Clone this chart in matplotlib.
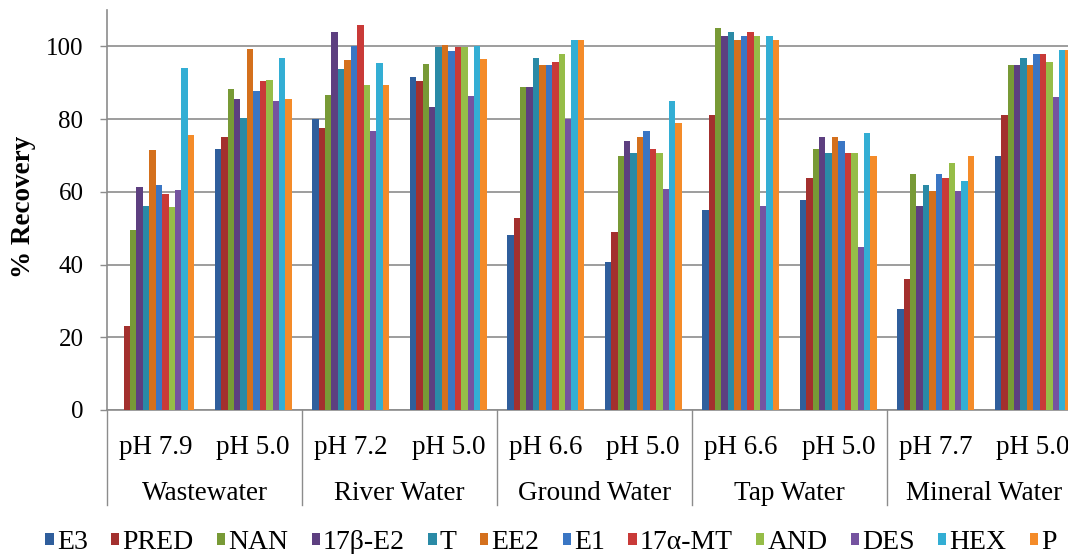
import numpy as np
import matplotlib
matplotlib.use("Agg")
import matplotlib.pyplot as plt
import matplotlib.transforms as mtransforms
from matplotlib.patches import Patch

plt.rcParams['font.family'] = ['Liberation Serif', 'DejaVu Serif']

matrices = ["Wastewater", "River Water", "Ground Water", "Tap Water", "Mineral Water"]
ph_labels = ["pH 7.9", "pH 5.0", "pH 7.2", "pH 5.0", "pH 6.6", "pH 5.0",
             "pH 6.6", "pH 5.0", "pH 7.7", "pH 5.0"]
compounds = ["E3", "PRED", "NAN", "17β-E2", "T", "EE2", "E1", "17α-MT",
             "AND", "DES", "HEX", "P"]

# recovery per compound, one value per pH condition (10 conditions)
E3    = [0.0, 71.8, 79.9, 91.6, 48.0, 40.8, 54.9, 57.8, 27.7, 69.8]
PRED  = [23.2, 75.1, 77.6, 90.6, 52.8, 49.0, 81.0, 63.7, 35.9, 81.0]
NAN   = [49.6, 88.4, 86.6, 95.1, 88.8, 69.8, 105.0, 71.9, 64.8, 94.8]
E2b   = [61.2, 85.5, 103.9, 83.2, 88.8, 74.0, 102.9, 75.1, 56.0, 94.8]
T     = [56.0, 80.3, 93.7, 99.7, 96.9, 70.8, 103.9, 70.8, 62.0, 96.9]
EE2   = [71.4, 99.4, 96.2, 100.5, 94.8, 75.1, 101.8, 75.1, 60.2, 94.8]
E1    = [62.0, 87.7, 100.0, 98.6, 94.8, 76.8, 102.9, 74.0, 64.8, 98.0]
MT    = [59.5, 90.6, 106.0, 99.7, 95.8, 71.9, 103.9, 70.8, 63.7, 98.0]
AND   = [55.7, 90.8, 89.4, 99.7, 98.0, 70.8, 102.9, 70.8, 68.0, 95.8]
DES   = [60.5, 84.9, 76.7, 86.3, 79.9, 60.9, 56.0, 44.7, 60.2, 86.0]
HEX   = [94.0, 96.9, 95.5, 100.0, 101.8, 84.9, 102.9, 76.1, 63.1, 98.9]
P     = [75.7, 85.5, 89.4, 96.5, 101.8, 78.9, 101.8, 69.8, 69.8, 98.9]

series = [E3, PRED, NAN, E2b, T, EE2, E1, MT, AND, DES, HEX, P]
colors = ["#2F5E9C", "#A3302E", "#789A36", "#5D3F80", "#2A8AA6", "#D4701D",
          "#3A76C4", "#C93A38", "#96BD48", "#7553A0", "#33AED4", "#F48B29"]

fig = plt.figure(figsize=(10.68, 5.54), dpi=100)
ax = fig.add_axes([107 / 1068, 144 / 554, 975 / 1068, 400 / 554])

n = len(ph_labels)
x = np.arange(n)
bw = 0.066
for i, (vals, c) in enumerate(zip(series, colors)):
    off = (i - (len(series) - 1) / 2) * bw
    ax.bar(x + off, vals, width=bw, color=c, edgecolor="none", zorder=3)

ax.set_xlim(-0.5, n - 0.5)
ax.set_ylim(0, 110)
ax.set_yticks(range(0, 101, 20))
ax.yaxis.grid(True, color="#8c8c8c", linewidth=1.2, zorder=0)
ax.tick_params(axis="y", labelsize=18, length=5, color="#8c8c8c", width=1, pad=12)
ax.set_xticks(x)
ax.set_xticklabels(ph_labels, fontsize=19.5)
ax.tick_params(axis="x", length=0, pad=18)
for s in ["top", "right"]:
    ax.spines[s].set_visible(False)
ax.spines["left"].set_color("#8c8c8c")
ax.spines["bottom"].set_color("#8c8c8c")
ax.spines["left"].set_linewidth(1.2)
ax.spines["bottom"].set_linewidth(1.2)
ax.set_ylabel("% Recovery", fontsize=19.5, fontweight="bold")
ax.yaxis.set_label_coords(-71 / 975, 0.5075)

# second level of category axis
trans = mtransforms.blended_transform_factory(ax.transData, ax.transAxes)
for g, name in enumerate(matrices):
    ax.text(2 * g + 0.5, -0.2075, name, transform=trans, ha="center", va="center",
            fontsize=19.5)
for b in range(len(matrices) + 1):
    ax.plot([2 * b - 0.5, 2 * b - 0.5], [0, -0.237], transform=trans,
            color="#8c8c8c", linewidth=1, clip_on=False)

handles = [Patch(facecolor=c, label=l) for c, l in zip(colors, compounds)]
fig.legend(handles=handles, loc="center", bbox_to_anchor=(0.516, 0.021), ncol=12,
           frameon=False, fontsize=20, handlelength=0.3, handleheight=0.3,
           handletextpad=0.11, columnspacing=0.84, borderpad=0)

fig.savefig("out.png", dpi=100)
